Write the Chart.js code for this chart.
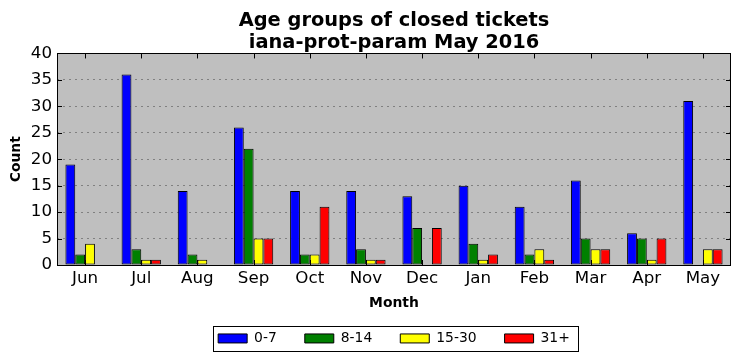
<!DOCTYPE html>
<html><head><meta charset="utf-8">
<script src="https://cdn.jsdelivr.net/npm/chart.js@4.4.0/dist/chart.umd.min.js"></script>
<style>html,body{margin:0;padding:0;background:#fff}#wrap{width:741px;height:361px}</style>
</head><body><div id="wrap"><canvas id="c" width="741" height="361"></canvas></div>
<script>
const months = ["Jun","Jul","Aug","Sep","Oct","Nov","Dec","Jan","Feb","Mar","Apr","May"];
const age0_7   = [19,36,14,26,14,14,13,15,11,16,6,31];
const age8_14  = [2,3,2,22,2,3,7,4,2,5,5,0];
const age15_30 = [4,1,1,5,2,1,0,1,3,3,1,3];
const age31p   = [0,1,0,5,11,1,7,2,1,3,5,3];
const seriesNames = ["0-7","8-14","15-30","31+"];
const yTicks = [0,5,10,15,20,25,30,35,40];

const FONT = "'DejaVu Sans', sans-serif";

const framePlugin = {
  id: 'frame',
  afterLayout(chart) {
    const a = chart.chartArea;
    const cx = (a.left + a.right) / 2;
    for (const box of [chart.legend, chart.titleBlock]) {
      if (!box) continue;
      const d = cx - (box.left + box.right) / 2;
      box.left += d; box.right += d;
    }
  },
  beforeDraw(chart) {
    const a = chart.chartArea, ctx = chart.ctx;
    ctx.save();
    ctx.fillStyle = '#fff';
    ctx.fillRect(0,0,chart.width,chart.height);
    ctx.fillStyle = '#bfbfbf';
    ctx.fillRect(a.left, a.top, a.right-a.left, a.bottom-a.top);
    ctx.restore();
  },
  afterDraw(chart) {
    const a = chart.chartArea, ctx = chart.ctx;
    const xs = chart.scales.x, ys = chart.scales.y;
    ctx.save();
    ctx.strokeStyle = '#000';
    ctx.lineWidth = 1;
    ctx.beginPath();
    for (let i = 0; i < months.length; i++) {
      const x = Math.round(xs.getPixelForValue(i)) + 0.5;
      ctx.moveTo(x, a.bottom); ctx.lineTo(x, a.bottom - 5);
      ctx.moveTo(x, a.top); ctx.lineTo(x, a.top + 5);
    }
    for (const v of yTicks) {
      const y = Math.round(ys.getPixelForValue(v)) + 0.5;
      ctx.moveTo(a.left, y); ctx.lineTo(a.left + 5, y);
      ctx.moveTo(a.right, y); ctx.lineTo(a.right - 5, y);
    }
    ctx.stroke();
    ctx.strokeRect(Math.round(a.left)+0.5, Math.round(a.top)+0.5, Math.round(a.right-a.left)-1, Math.round(a.bottom-a.top));
    const lg = chart.legend;
    if (lg && lg.legendHitBoxes && lg.legendHitBoxes.length) {
      const hb = lg.legendHitBoxes;
      const l = hb[0].left - 5, r = hb[hb.length-1].left + hb[hb.length-1].width + 8;
      const t = hb[0].top - 6, b = hb[0].top + hb[0].height + 5;
      ctx.strokeRect(Math.round(l)+0.5, Math.round(t)+0.5, Math.round(r-l), Math.round(b-t));
    }
    ctx.restore();
  }
};

const colors = ['#0000ff','#008000','#ffff00','#ff0000'];
const dataArrays = [age0_7, age8_14, age15_30, age31p];

new Chart(document.getElementById('c'), {
  type: 'bar',
  data: {
    labels: months,
    datasets: dataArrays.map((d,i) => ({
      label: seriesNames[i],
      data: d,
      backgroundColor: colors[i],
      borderColor: '#000',
      borderWidth: 1,
      borderSkipped: false,
      categoryPercentage: 0.7,
      barPercentage: 1.0
    }))
  },
  options: {
    responsive: false,
    animation: false,
    devicePixelRatio: 1,
    layout: { padding: { left: 4, right: 10, top: 0, bottom: 5.6 } },
    plugins: {
      title: {
        display: true,
        text: ['Age groups of closed tickets', 'iana-prot-param May 2016'],
        color: '#000',
        font: { family: FONT, size: 19.4, weight: 'bold', lineHeight: 1.12 },
        padding: { top: 10, bottom: 0 }
      },
      legend: {
        position: 'bottom',
        labels: {
          color: '#000',
          font: { family: FONT, size: 13.9 },
          boxWidth: 29, boxHeight: 9,
          padding: 28,
          generateLabels(chart) {
            return chart.data.datasets.map((ds, i) => ({
              text: ds.label, fillStyle: ds.backgroundColor, strokeStyle: '#000',
              lineWidth: 1, hidden: false, datasetIndex: i, fontColor: '#000'
            }));
          }
        }
      },
      tooltip: { enabled: false }
    },
    scales: {
      x: {
        grid: { display: false, drawTicks: false },
        border: { display: false },
        ticks: { color: '#000', font: { family: FONT, size: 16.7 }, padding: 4, maxRotation: 0 },
        title: { display: true, text: 'Month', color: '#000', font: { family: FONT, size: 13.9, weight: 'bold' }, padding: { top: 0, bottom: -7.8 } },
        afterFit(s) { s.height = 38.5; }
      },
      y: {
        min: 0, max: 40,
        grid: { color: '#808080', drawTicks: false },
        border: { display: false, dash: [2, 4] },
        ticks: { stepSize: 5, color: '#000', font: { family: FONT, size: 16.7 }, padding: 5 },
        title: { display: true, text: 'Count', color: '#000', font: { family: FONT, size: 13.9, weight: 'bold' }, padding: { top: 4, bottom: 0 } },
        afterFit(s) { s.width = 53; }
      }
    }
  },
  plugins: [framePlugin]
});
</script>
</body></html>
